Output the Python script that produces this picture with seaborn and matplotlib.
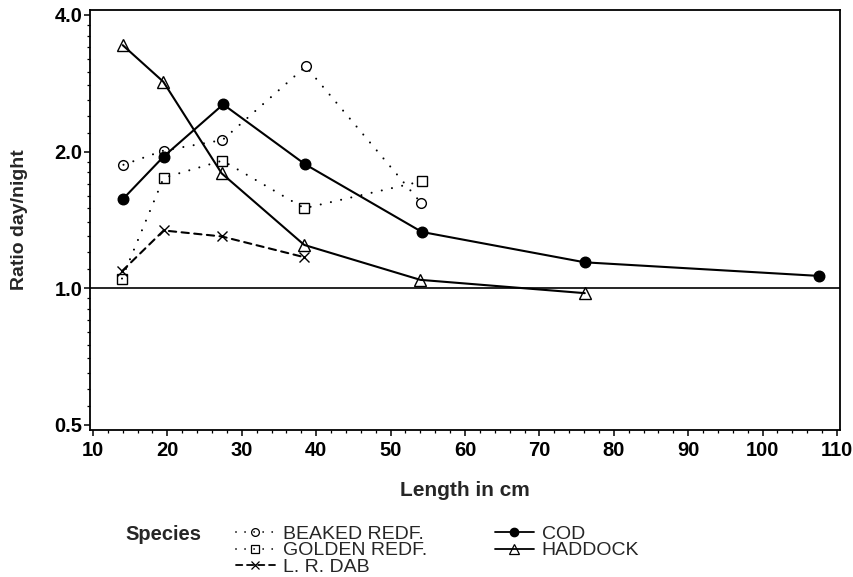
import numpy as np
import pandas as pd
import matplotlib
matplotlib.use("Agg")
import matplotlib.pyplot as plt
from matplotlib.ticker import FixedLocator, FormatStrFormatter, MultipleLocator, NullFormatter
from matplotlib.lines import Line2D
import seaborn as sns

# Day/night catch ratio by length class for each species
species = ["BEAKED REDF.", "GOLDEN REDF.", "L. R. DAB", "COD", "HADDOCK"]

beaked_len = [14.1, 19.5, 27.4, 38.6, 54.1]
beaked_ratio = [1.87, 2.01, 2.12, 3.08, 1.54]

golden_len = [13.9, 19.5, 27.4, 38.4, 54.2]
golden_ratio = [1.05, 1.75, 1.91, 1.50, 1.72]

dab_len = [13.9, 19.5, 27.3, 38.4]
dab_ratio = [1.09, 1.34, 1.30, 1.17]

cod_len = [14.0, 19.5, 27.5, 38.5, 54.2, 76.1, 107.6]
cod_ratio = [1.57, 1.95, 2.54, 1.875, 1.33, 1.14, 1.064]

haddock_len = [14.0, 19.45, 27.3, 38.4, 54.0, 76.1]
haddock_ratio = [3.43, 2.85, 1.79, 1.245, 1.043, 0.975]

y_ticks = [0.5, 1.0, 2.0, 4.0]
x_ticks = list(range(10, 111, 10))

frames = []
for name, xs, ys in [
    (species[0], beaked_len, beaked_ratio),
    (species[1], golden_len, golden_ratio),
    (species[2], dab_len, dab_ratio),
    (species[3], cod_len, cod_ratio),
    (species[4], haddock_len, haddock_ratio),
]:
    frames.append(pd.DataFrame({"Species": name, "Length": xs, "Ratio": ys}))
df = pd.concat(frames, ignore_index=True)

sns.set_style("ticks")
plt.rcParams["font.family"] = ["Liberation Sans", "DejaVu Sans"]
plt.rcParams["lines.dash_capstyle"] = "round"

BOLD_SIZE = 14.5

dotted = (0, (0.01, 5.0))
dashed = (0, (3.5, 2.6))
styles = {
    "BEAKED REDF.": dict(ls=dotted, marker="o", ms=7, mfc="none"),
    "GOLDEN REDF.": dict(ls=dotted, marker="s", ms=6.6, mfc="none"),
    "L. R. DAB": dict(ls=dashed, marker="x", ms=7.5, mfc="none"),
    "COD": dict(ls="-", marker="o", ms=7.6, mfc="black"),
    "HADDOCK": dict(ls="-", marker="^", ms=8.5, mfc="none"),
}

fig = plt.figure(figsize=(8.54, 5.77), dpi=100)
ax = fig.add_axes([90 / 854, 1 - 430 / 577, 750 / 854, 420 / 577])

ax.set_yscale("log")
ax.axhline(1.0, color="black", lw=1.2, zorder=1)

for name in species:
    st = styles[name]
    sub = df[df["Species"] == name]
    sns.lineplot(
        data=sub, x="Length", y="Ratio", ax=ax, sort=False, errorbar=None,
        color="black", lw=1.5, linestyle=st["ls"], marker=st["marker"],
        markersize=st["ms"], markerfacecolor=st["mfc"], markeredgecolor="black",
        markeredgewidth=1.0, legend=False, zorder=3,
    )

ax.set_xlim(9.6, 110.4)
ax.set_ylim(0.487, 4.1)

ax.yaxis.set_major_locator(FixedLocator(y_ticks))
ax.yaxis.set_major_formatter(FormatStrFormatter("%.1f"))
minor_y = list(np.arange(0.55, 0.99, 0.05)) + list(np.arange(1.1, 1.99, 0.1)) + list(np.arange(2.2, 3.99, 0.2))
ax.yaxis.set_minor_locator(FixedLocator(minor_y))
ax.yaxis.set_minor_formatter(NullFormatter())

ax.xaxis.set_major_locator(FixedLocator(x_ticks))
ax.xaxis.set_minor_locator(MultipleLocator(2))

ax.tick_params(which="major", direction="out", length=4, width=1.1, color="black", pad=4,
               labelsize=BOLD_SIZE, labelcolor="black")
ax.tick_params(axis="y", which="major", pad=1.5)
ax.tick_params(which="minor", direction="out", length=2.5, width=0.9, color="black")
for lab in ax.get_xticklabels() + ax.get_yticklabels():
    lab.set_fontweight("bold")

for sp in ax.spines.values():
    sp.set_visible(True)
    sp.set_linewidth(1.3)
    sp.set_color("black")

ax.set_xlabel("Length in cm", fontsize=BOLD_SIZE + 0.5, fontweight="bold")
ax.set_ylabel("Ratio day/night", fontsize=BOLD_SIZE - 0.5, fontweight="bold")
ax.xaxis.set_label_coords(0.5, (430 - 490) / 420)
ax.xaxis.label.set_va("center")
ax.yaxis.set_label_coords((19 - 90) / 750, 0.5)
ax.yaxis.label.set_va("center")

handles = []
for name in species:
    st = styles[name]
    handles.append(Line2D([], [], color="black", lw=1.3, linestyle=st["ls"], marker=st["marker"],
                          markersize=st["ms"] * 0.8, markerfacecolor=st["mfc"],
                          markeredgecolor="black", markeredgewidth=0.9))

fig.text(125 / 854, 1 - 535 / 577, "Species", fontsize=BOLD_SIZE, fontweight="bold",
         ha="left", va="center")
fig.legend(handles, species, ncol=2, loc="upper left",
           bbox_to_anchor=(236 / 854, 1 - 525 / 577), frameon=False,
           prop={"family": "Liberation Sans", "size": 14},
           handlelength=2.0, handletextpad=0.4, columnspacing=3.5,
           labelspacing=-0.04, borderpad=0, borderaxespad=0)

fig.savefig("out.png", dpi=100, facecolor="white")
